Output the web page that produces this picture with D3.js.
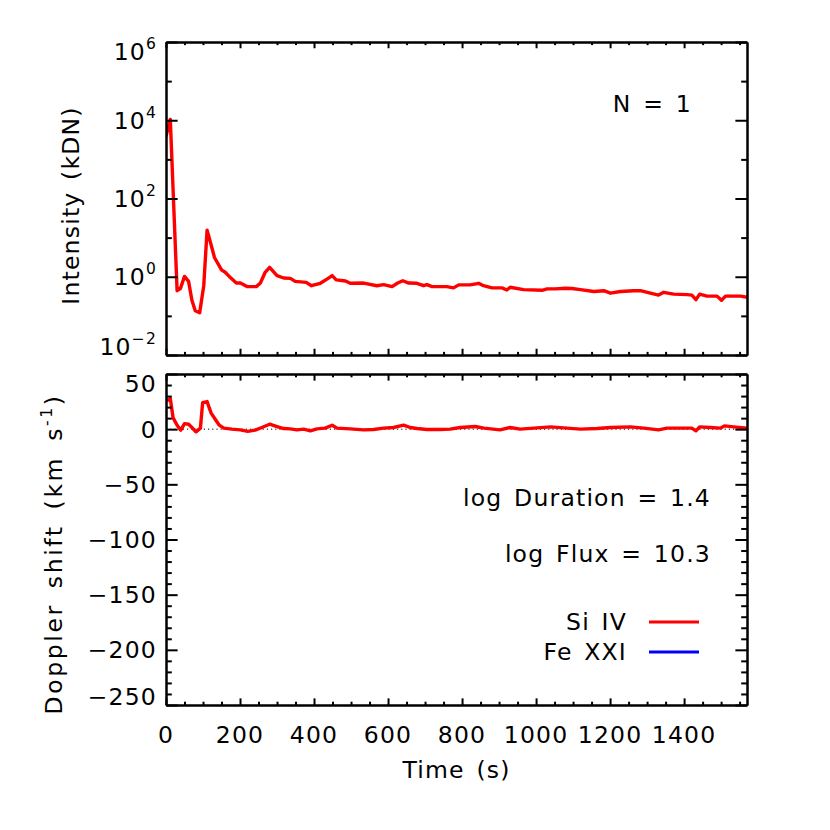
<!DOCTYPE html>
<html><head><meta charset="utf-8">
<script src="https://cdn.jsdelivr.net/npm/d3@7"></script>
<style>
html,body{margin:0;padding:0;background:#fff;}
text{font-family:"DejaVu Sans",sans-serif;font-size:23.5px;letter-spacing:1.2px;word-spacing:3px;fill:#000;}
</style></head>
<body>
<svg id="chart" width="830" height="830"></svg>
<script>
// ---- data ----
const siTime = [0,11.6,30,39,50,61,70,79,91,102,111,120,131,150,160,174,190,201,219,244,255,268,280,300,318,336,349,379,393,417,435,449,460,485,498,534,570,588,611,626,640,656,678,696,705,719,759,777,791,822,845,858,881,908,921,930,966,1016,1030,1052,1079,1097,1120,1156,1183,1201,1228,1264,1282,1309,1331,1345,1372,1408,1421,1432,1442,1462,1489,1501,1512,1553,1570];
const siIntensity = [3900,10500,0.44,0.50,1.02,0.76,0.25,0.135,0.12,0.59,15.5,7.6,3.1,1.5,1.3,0.95,0.69,0.69,0.56,0.56,0.69,1.3,1.74,1.07,0.93,0.91,0.76,0.72,0.59,0.68,0.87,1.07,0.83,0.78,0.68,0.69,0.59,0.63,0.56,0.69,0.79,0.69,0.68,0.59,0.63,0.56,0.56,0.52,0.62,0.62,0.68,0.59,0.52,0.52,0.46,0.54,0.47,0.45,0.49,0.49,0.51,0.50,0.47,0.42,0.44,0.38,0.42,0.44,0.44,0.38,0.34,0.40,0.36,0.35,0.34,0.26,0.36,0.32,0.32,0.25,0.32,0.32,0.30];
const dopTime = [2.5,11.6,19,30,40,50,61,70,81,93,99,111,122,133,144,156,178,201,221,241,259,280,300,318,336,354,372,390,408,430,449,462,498,534,561,588,615,642,660,678,705,741,768,795,836,859,903,930,957,994,1039,1084,1120,1165,1201,1255,1291,1331,1354,1399,1421,1432,1442,1471,1498,1509,1534,1570];
const siDoppler = [25.7,27.7,10.5,3.6,-0.9,5,4.5,1.5,-2.4,0.9,24,25,14.5,9,3.6,0.9,0,-0.6,-2,-0.9,1.5,4.5,2.4,0.6,0.3,-0.6,0,-1.5,0.3,0.9,3.6,0.9,0.3,-0.6,-0.3,0.9,1.5,3.6,1.5,0.6,-0.3,-0.3,0,1.5,2.4,0.9,-0.6,1.5,0,0.9,2.1,0.9,0,0.6,1.5,2.1,0.9,-0.6,0.9,0.9,0.9,-1.5,2.1,1.5,0.9,3,2.1,0.9];
const feTime = [];
const feDoppler = [];
const timeTicks = [0,200,400,600,800,1000,1200,1400];
const intensityTicks = [1e-2,1e0,1e2,1e4,1e6];
const intensityTickLabels = [["10","−2"],["10","0"],["10","2"],["10","4"],["10","6"]];
const intensityMinor = [1e-1,1e1,1e3,1e5];
const dopplerTicks = [-250,-200,-150,-100,-50,0,50];
const dopplerTickLabels = ["−250","−200","−150","−100","−50","0","50"];
const legendNames = ["Si IV","Fe XXI"];
const legendColors = ["#ff0000","#0000ff"];
const annotations = ["log Duration = 1.4","log Flux = 10.3"];
const panelText = "N = 1";

// ---- layout ----
const L=166, R=747, T1=42, B1=355, T2=374, B2=705;
const svg = d3.select("#chart");
const x = d3.scaleLinear().domain([0,1570]).range([L,R]);
const y1 = d3.scaleLog().domain([1e-2,1e6]).range([B1,T1]);
const y2 = d3.scaleLinear().domain([-250,50]).range([B2,T2]);
const xMinor = d3.range(0,1571,50).filter(v=>v%200!==0);
const dopMinor = d3.range(-250,51,10).filter(v=>v%50!==0);
const AXW = 2;

function styleAxis(g){
  g.selectAll("path.domain").attr("stroke","#000").attr("stroke-width",AXW);
  g.selectAll(".tick line").attr("stroke","#000").attr("stroke-width",AXW);
  g.selectAll(".tick text").remove();
}
function drawFrame(yScale, top, bottom, yMaj, yMin){
  const hx = 0.02*(bottom-top), hy = 0.02*(R-L);
  svg.append("g").attr("transform",`translate(0,${bottom})`)
    .call(d3.axisBottom(x).tickValues(timeTicks).tickSize(-hx).tickSizeOuter(0).tickFormat("")).call(styleAxis);
  svg.append("g").attr("transform",`translate(0,${bottom})`)
    .call(d3.axisBottom(x).tickValues(xMinor).tickSize(-hx/2).tickSizeOuter(0).tickFormat("")).call(styleAxis);
  svg.append("g").attr("transform",`translate(0,${top})`)
    .call(d3.axisTop(x).tickValues(timeTicks).tickSize(-hx).tickSizeOuter(0).tickFormat("")).call(styleAxis);
  svg.append("g").attr("transform",`translate(0,${top})`)
    .call(d3.axisTop(x).tickValues(xMinor).tickSize(-hx/2).tickSizeOuter(0).tickFormat("")).call(styleAxis);
  svg.append("g").attr("transform",`translate(${L},0)`)
    .call(d3.axisLeft(yScale).tickValues(yMaj).tickSize(-hy).tickSizeOuter(0).tickFormat("")).call(styleAxis);
  svg.append("g").attr("transform",`translate(${L},0)`)
    .call(d3.axisLeft(yScale).tickValues(yMin).tickSize(-hy/2).tickSizeOuter(0).tickFormat("")).call(styleAxis);
  svg.append("g").attr("transform",`translate(${R},0)`)
    .call(d3.axisRight(yScale).tickValues(yMaj).tickSize(-hy).tickSizeOuter(0).tickFormat("")).call(styleAxis);
  svg.append("g").attr("transform",`translate(${R},0)`)
    .call(d3.axisRight(yScale).tickValues(yMin).tickSize(-hy/2).tickSizeOuter(0).tickFormat("")).call(styleAxis);
}

svg.append("clipPath").attr("id","c1").append("rect").attr("x",L).attr("y",T1).attr("width",R-L).attr("height",B1-T1);
svg.append("clipPath").attr("id","c2").append("rect").attr("x",L).attr("y",T2).attr("width",R-L).attr("height",B2-T2);

// ---- top panel ----
const line1 = d3.line().x((d,i)=>x(siTime[i])).y(d=>y1(d));
svg.append("path").datum(siIntensity).attr("clip-path","url(#c1)")
  .attr("d",line1).attr("fill","none").attr("stroke","#ff0000").attr("stroke-width",3.4).attr("stroke-linejoin","round");
drawFrame(y1,T1,B1,intensityTicks,intensityMinor);
intensityTicks.forEach((v,i)=>{
  const cy = Math.max(T1+9, Math.min(B1-9, y1(v)));
  const t = svg.append("text").attr("x",157).attr("y",cy+8.5).attr("text-anchor","end");
  t.append("tspan").text(intensityTickLabels[i][0]);
  t.append("tspan").attr("dy",-11).style("font-size","15.5px").text(intensityTickLabels[i][1]);
});
svg.append("text").attr("transform",`translate(79,${(T1+B1)/2+7}) rotate(-90)`).attr("text-anchor","middle").text("Intensity (kDN)");
svg.append("text").attr("x",692).attr("y",111.5).attr("text-anchor","end").text(panelText);

// ---- bottom panel ----
svg.append("line").attr("x1",L).attr("x2",R).attr("y1",y2(0)).attr("y2",y2(0))
  .attr("stroke","#000").attr("stroke-width",1).attr("stroke-dasharray","1.2,3");
const line2 = d3.line().x((d,i)=>x(dopTime[i])).y(d=>y2(d));
svg.append("path").datum(siDoppler).attr("clip-path","url(#c2)")
  .attr("d",line2).attr("fill","none").attr("stroke","#ff0000").attr("stroke-width",3.4).attr("stroke-linejoin","round");
const line3 = d3.line().x((d,i)=>x(feTime[i])).y(d=>y2(d));
svg.append("path").datum(feDoppler).attr("clip-path","url(#c2)")
  .attr("d",line3).attr("fill","none").attr("stroke","#0000ff").attr("stroke-width",3.4);
drawFrame(y2,T2,B2,dopplerTicks,dopMinor);
dopplerTicks.forEach((v,i)=>{
  const cy = Math.max(T2+9, Math.min(B2-9, y2(v)));
  svg.append("text").attr("x",157).attr("y",cy+8.5).attr("text-anchor","end").text(dopplerTickLabels[i]);
});
timeTicks.forEach(v=>{
  svg.append("text").attr("x",x(v)).attr("y",743).attr("text-anchor","middle").text(String(v));
});
svg.append("text").attr("x",(L+R)/2).attr("y",778).attr("text-anchor","middle").text("Time (s)");
const yl = svg.append("text").attr("transform",`translate(62,554) rotate(-90)`).attr("text-anchor","middle")
  .style("letter-spacing","2.6px").style("word-spacing","5px");
yl.append("tspan").text("Doppler shift (km s");
yl.append("tspan").attr("dy",-10).style("font-size","15.5px").text("-1");
yl.append("tspan").attr("dy",10).text(")");

// annotations
svg.append("text").attr("x",711).attr("y",506).attr("text-anchor","end").text(annotations[0]);
svg.append("text").attr("x",711).attr("y",562).attr("text-anchor","end").text(annotations[1]);
legendNames.forEach((n,i)=>{
  const yy = 622 + i*30;
  svg.append("text").attr("x",627).attr("y",yy+8).attr("text-anchor","end").text(n);
  svg.append("line").attr("x1",649).attr("x2",699).attr("y1",yy).attr("y2",yy)
    .attr("stroke",legendColors[i]).attr("stroke-width",3);
});
</script>
</body></html>
